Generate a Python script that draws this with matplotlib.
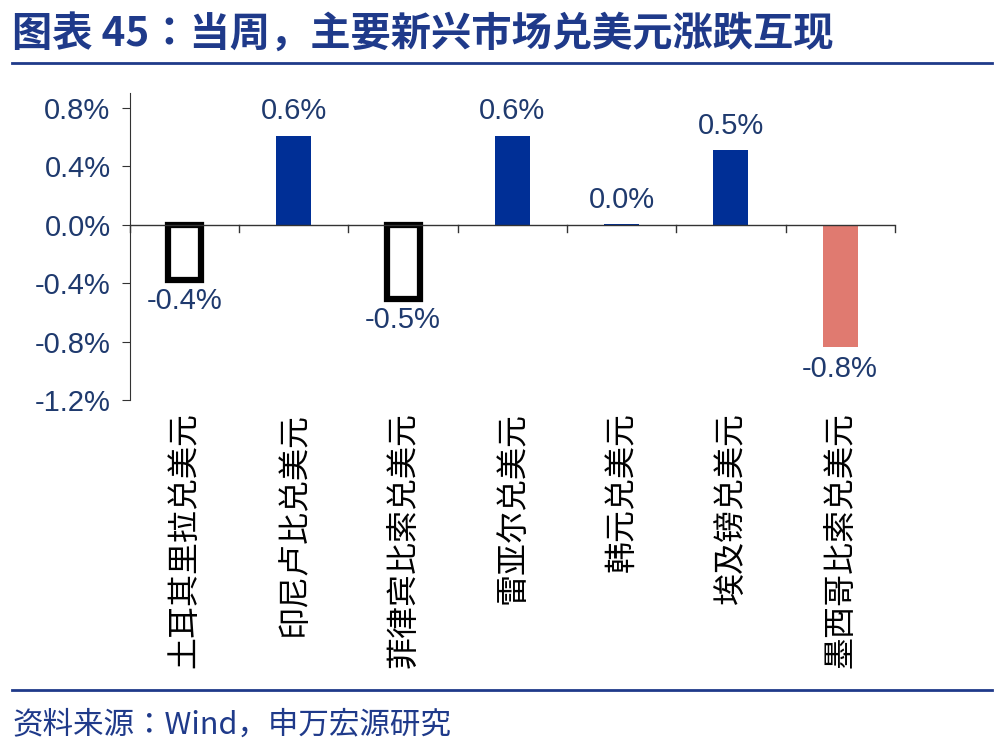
import matplotlib
matplotlib.use("Agg")
import matplotlib.pyplot as plt
from matplotlib.lines import Line2D
from matplotlib import font_manager as fm

files = sorted(f for f in fm.findSystemFonts() if "CJK" in f)
def pick(pred):
    for f in files:
        if pred(f):
            return f
    return files[0] if files else None
if any("Regular" in f for f in files):
    cjk = pick(lambda f: "Regular" in f)
else:
    cjk = pick(lambda f: "Bold" not in f and "Black" not in f)
cjkb = pick(lambda f: "Bold" in f)
def cp(size, bold=False):
    f = cjkb if bold else cjk
    return fm.FontProperties(fname=f, size=size, weight="bold" if bold else "normal")

plt.rcParams['font.family'] = ['Liberation Sans']

categories = ["土耳其里拉兑美元", "印尼卢比兑美元", "菲律宾比索兑美元", "雷亚尔兑美元",
              "韩元兑美元", "埃及镑兑美元", "墨西哥比索兑美元"]
values = [-0.38, 0.61, -0.51, 0.61, 0.005, 0.51, -0.84]
labels = ["-0.4%", "0.6%", "-0.5%", "0.6%", "0.0%", "0.5%", "-0.8%"]
yticks = [0.8, 0.4, 0.0, -0.4, -0.8, -1.2]
ytick_labels = ["0.8%", "0.4%", "0.0%", "-0.4%", "-0.8%", "-1.2%"]

blue = "#002F96"
fig = plt.figure(figsize=(10.02, 7.5), dpi=100)
ax = fig.add_axes([0.1297, 0.4667, 0.7633, 0.409])
for i, v in enumerate(values):
    if i in (0, 2):
        ax.bar(i, v, width=0.3, facecolor="white", edgecolor="black", linewidth=4.5)
    elif i == 6:
        ax.bar(i, v, width=0.32, color="#E07A70")
    else:
        ax.bar(i, v, width=0.32, color=blue)
    off = 0.07 if v >= 0 else -0.05
    ax.text(i, v + off, labels[i], ha="center", va="bottom" if v >= 0 else "top",
            fontsize=21, color="#1F3A6E")
ax.set_xlim(-0.5, 6.5)
ax.set_ylim(-1.2, 0.9)
ax.set_yticks(yticks)
ax.set_yticklabels(ytick_labels, fontsize=21, color="#1F3A6E")
ax.tick_params(axis='y', length=6, color="#333333", pad=8)
for s in ["top", "right", "bottom"]:
    ax.spines[s].set_visible(False)
ax.spines["left"].set_color("#333333")
ax.axhline(0, color="#333333", linewidth=1)
for b in [i + 0.5 for i in range(-1, 7)]:
    ax.plot([b, b], [0, -0.05], color="#333333", linewidth=1, clip_on=False)
ax.set_xticks([])
for i, c in enumerate(categories):
    ax.text(i, -1.28, c, rotation=90, ha="center", va="top", color="black",
            fontproperties=cp(23))

fig.text(0.012, 0.953, "图表 45：当周，主要新兴市场兑美元涨跌互现", color="#1F3A8A",
         fontproperties=cp(29, True), va="center")
fig.add_artist(Line2D([0.012, 0.99], [0.916, 0.916], color="#1F3A8A", linewidth=2))
fig.add_artist(Line2D([0.012, 0.99], [0.08, 0.08], color="#1F3A8A", linewidth=2))
fig.text(0.012, 0.033, "资料来源：Wind，申万宏源研究", color="#1F3A8A",
         fontproperties=cp(22), va="center")
fig.savefig("out.png", dpi=100)
